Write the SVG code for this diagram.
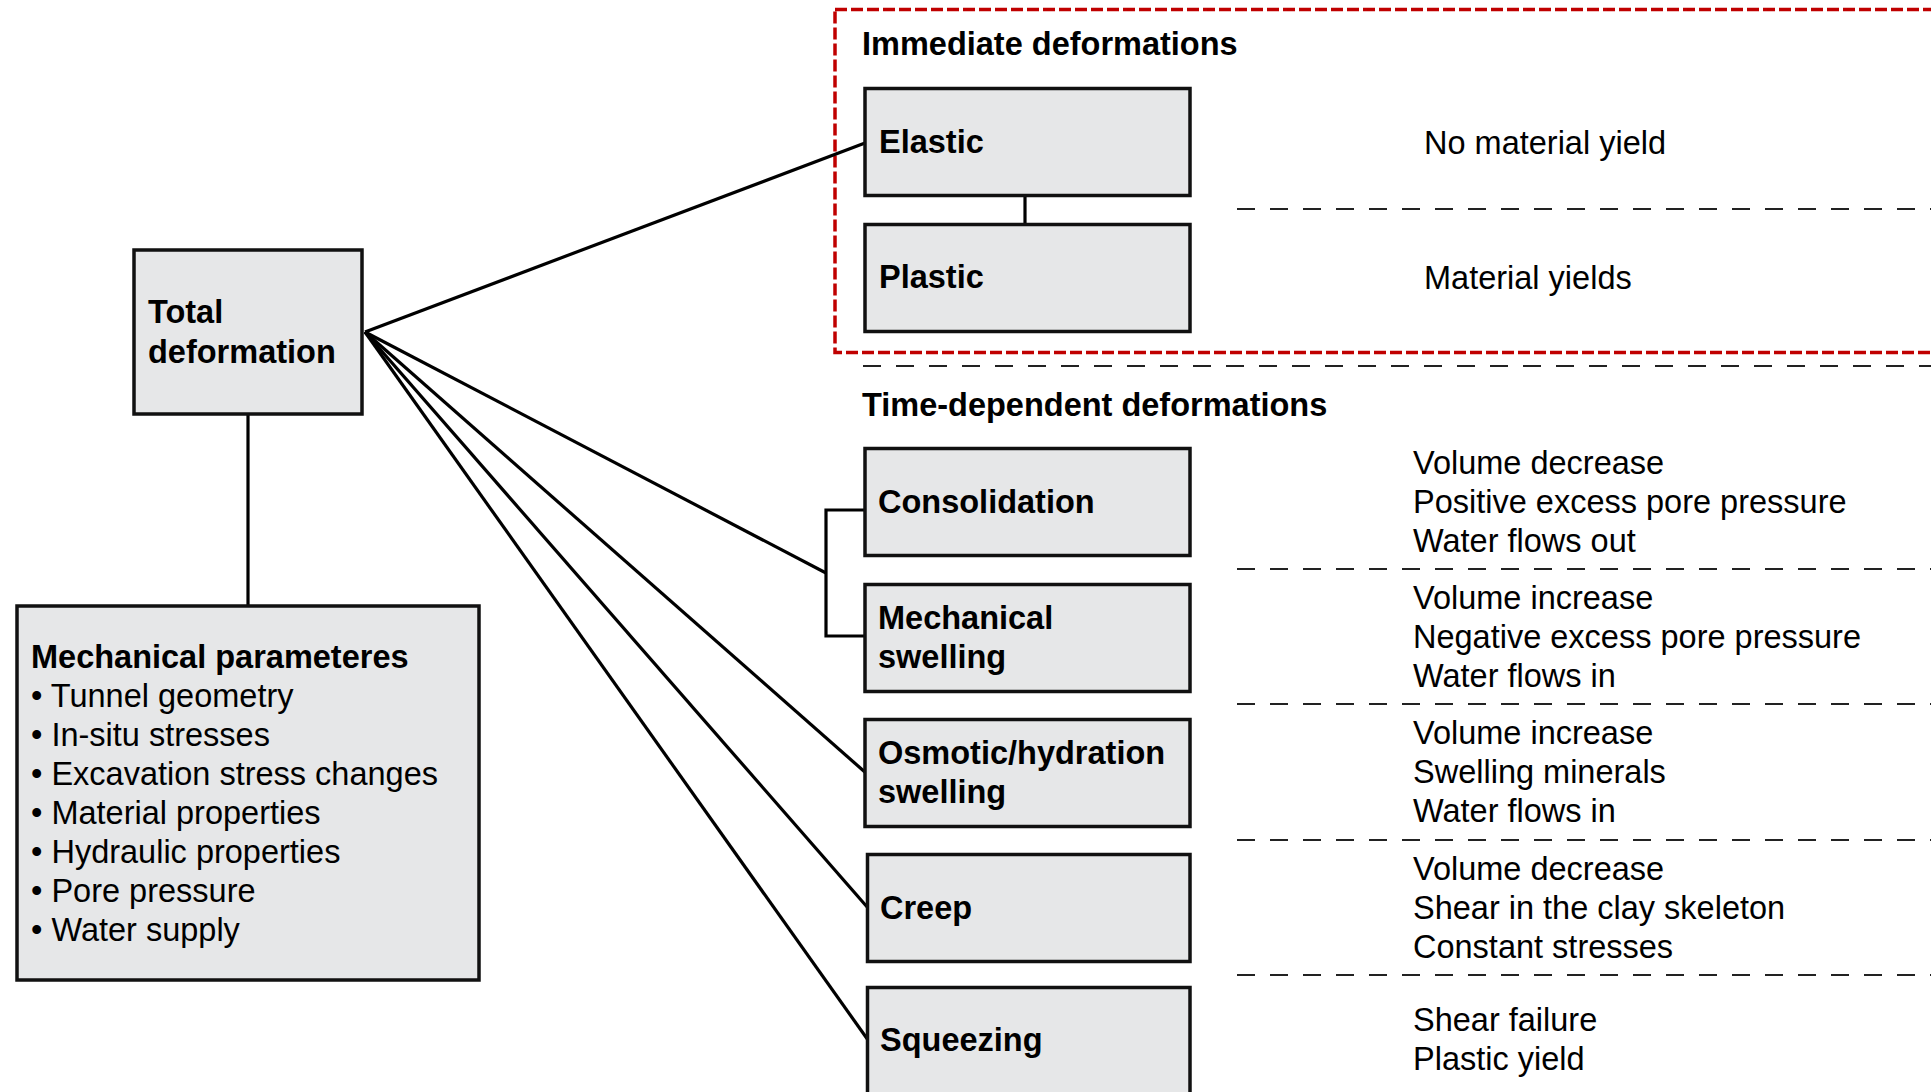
<svg xmlns="http://www.w3.org/2000/svg" width="1931" height="1092" viewBox="0 0 1931 1092">
  <style>
    .box { fill: #E6E7E8; stroke: #111; stroke-width: 3.5; }
    .lbl { font-family: "Liberation Sans", Arial, sans-serif; font-size: 32.5px; font-weight: bold; fill: #000; }
    .txt { font-family: "Liberation Sans", Arial, sans-serif; font-size: 32.5px; fill: #000; }
    .conn { stroke: #000; stroke-width: 3.2; fill: none; }
    .sep { stroke: #222; stroke-width: 2; stroke-dasharray: 18 15; fill: none; }
    .group { stroke: #C00000; stroke-width: 3.5; stroke-dasharray: 12 4; fill: none; }
  </style>

  <!-- group outline for immediate deformations -->
  <rect class="group" x="835" y="9.5" width="1120" height="343"/>

  <!-- row separators -->
  <g id="separators">
    <line class="sep" x1="1237" y1="209" x2="1931" y2="209"/>
    <line class="sep" x1="863" y1="366" x2="1931" y2="366"/>
    <line class="sep" x1="1237" y1="569" x2="1931" y2="569"/>
    <line class="sep" x1="1237" y1="704" x2="1931" y2="704"/>
    <line class="sep" x1="1237" y1="840" x2="1931" y2="840"/>
    <line class="sep" x1="1237" y1="975" x2="1931" y2="975"/>
  </g>

  <!-- connectors -->
  <g id="connectors">
    <line class="conn" x1="248" y1="414" x2="248" y2="606"/>
    <line class="conn" x1="365" y1="332" x2="865" y2="143"/>
    <line class="conn" x1="1025" y1="196" x2="1025" y2="224"/>
    <line class="conn" x1="365" y1="332" x2="826" y2="573"/>
    <polyline class="conn" points="865,510 826,510 826,636 865,636"/>
    <line class="conn" x1="365" y1="332" x2="866" y2="773"/>
    <line class="conn" x1="365" y1="332" x2="868" y2="908"/>
    <line class="conn" x1="365" y1="332" x2="868" y2="1040"/>
  </g>

  <!-- section headings -->
  <text class="lbl" x="862" y="55">Immediate deformations</text>
  <text class="lbl" x="862" y="416">Time-dependent deformations</text>

  <g id="total">
    <rect class="box" x="134" y="250" width="228" height="164"/>
    <text class="lbl" x="148" y="323">Total</text>
    <text class="lbl" x="148" y="363">deformation</text>
  </g>

  <g id="parameters">
    <rect class="box" x="17" y="606" width="462" height="374"/>
    <text class="lbl" x="31" y="668">Mechanical parameteres</text>
    <text class="txt" x="31" y="707">• Tunnel geometry</text>
    <text class="txt" x="31" y="746">• In-situ stresses</text>
    <text class="txt" x="31" y="785">• Excavation stress changes</text>
    <text class="txt" x="31" y="824">• Material properties</text>
    <text class="txt" x="31" y="863">• Hydraulic properties</text>
    <text class="txt" x="31" y="902">• Pore pressure</text>
    <text class="txt" x="31" y="941">• Water supply</text>
  </g>

  <g id="elastic">
    <rect class="box" x="865" y="88.5" width="325" height="107"/>
    <text class="lbl" x="879" y="153">Elastic</text>
    <text class="txt" x="1424" y="154">No material yield</text>
  </g>

  <g id="plastic">
    <rect class="box" x="865" y="224.5" width="325" height="107"/>
    <text class="lbl" x="879" y="288">Plastic</text>
    <text class="txt" x="1424" y="289">Material yields</text>
  </g>

  <g id="consolidation">
    <rect class="box" x="865" y="448.5" width="325" height="107"/>
    <text class="lbl" x="878" y="513">Consolidation</text>
    <text class="txt" x="1413" y="474">Volume decrease</text>
    <text class="txt" x="1413" y="513">Positive excess pore pressure</text>
    <text class="txt" x="1413" y="552">Water flows out</text>
  </g>

  <g id="mechanical-swelling">
    <rect class="box" x="865" y="584.5" width="325" height="107"/>
    <text class="lbl" x="878" y="629">Mechanical</text>
    <text class="lbl" x="878" y="668">swelling</text>
    <text class="txt" x="1413" y="609">Volume increase</text>
    <text class="txt" x="1413" y="648">Negative excess pore pressure</text>
    <text class="txt" x="1413" y="687">Water flows in</text>
  </g>

  <g id="osmotic-swelling">
    <rect class="box" x="865" y="719.5" width="325" height="107"/>
    <text class="lbl" x="878" y="764">Osmotic/hydration</text>
    <text class="lbl" x="878" y="803">swelling</text>
    <text class="txt" x="1413" y="744">Volume increase</text>
    <text class="txt" x="1413" y="783">Swelling minerals</text>
    <text class="txt" x="1413" y="822">Water flows in</text>
  </g>

  <g id="creep">
    <rect class="box" x="867.5" y="854.5" width="322.5" height="107"/>
    <text class="lbl" x="880" y="919">Creep</text>
    <text class="txt" x="1413" y="880">Volume decrease</text>
    <text class="txt" x="1413" y="919">Shear in the clay skeleton</text>
    <text class="txt" x="1413" y="958">Constant stresses</text>
  </g>

  <g id="squeezing">
    <rect class="box" x="867.5" y="987.5" width="322.5" height="120"/>
    <text class="lbl" x="880" y="1051">Squeezing</text>
    <text class="txt" x="1413" y="1031">Shear failure</text>
    <text class="txt" x="1413" y="1070">Plastic yield</text>
  </g>
</svg>
